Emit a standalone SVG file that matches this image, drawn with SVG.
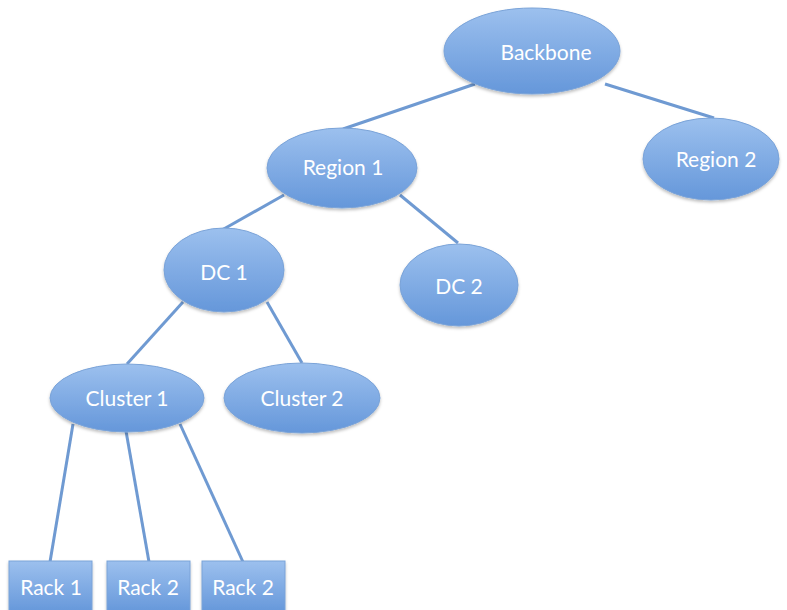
<svg xmlns="http://www.w3.org/2000/svg" width="787" height="610" viewBox="0 0 787 610">
<defs>
<linearGradient id="g" x1="0" y1="0" x2="0" y2="1">
<stop offset="0" stop-color="#9cc0ee"/>
<stop offset="1" stop-color="#6597da"/>
</linearGradient>
<filter id="sh" x="-10%" y="-10%" width="120%" height="130%">
<feDropShadow dx="0" dy="2" stdDeviation="1.5" flood-color="#000" flood-opacity="0.25"/>
</filter>
</defs>
<style>
.n{fill:url(#g);stroke:#7aa3d8;stroke-width:1;filter:url(#sh)}
.t{font-family:Lato,"Open Sans","Liberation Sans",sans-serif;font-size:21px;fill:#fff;text-anchor:middle}
.c line{stroke:#6f9ad2;stroke-width:3}
</style>
<rect width="787" height="610" fill="#fff"/>
<g class="c" id="connectors">
<line x1="475" y1="84" x2="343" y2="129"/>
<line x1="605" y1="84" x2="714" y2="118"/>
<line x1="284" y1="195" x2="222" y2="230"/>
<line x1="400" y1="195" x2="458" y2="243"/>
<line x1="183" y1="302" x2="127" y2="364"/>
<line x1="267" y1="302" x2="302" y2="363"/>
<line x1="73" y1="424" x2="50" y2="562"/>
<line x1="126" y1="431" x2="149" y2="562"/>
<line x1="180" y1="424" x2="243" y2="562"/>
</g>
<g id="backbone"><ellipse class="n" cx="532" cy="51" rx="88" ry="43"/><text class="t" x="546" y="60">Backbone</text></g>
<g id="region2"><ellipse class="n" cx="711" cy="159" rx="68" ry="41"/><text class="t" x="716" y="167">Region 2</text></g>
<g id="region1"><ellipse class="n" cx="342" cy="168" rx="75" ry="40"/><text class="t" x="343" y="175">Region 1</text></g>
<g id="dc1"><ellipse class="n" cx="224" cy="270" rx="60" ry="42"/><text class="t" x="224" y="280">DC 1</text></g>
<g id="dc2"><ellipse class="n" cx="459" cy="285" rx="59" ry="41"/><text class="t" x="459" y="294">DC 2</text></g>
<g id="cluster1"><ellipse class="n" cx="127" cy="398" rx="77" ry="34"/><text class="t" x="127" y="406">Cluster 1</text></g>
<g id="cluster2"><ellipse class="n" cx="302" cy="398" rx="78" ry="35"/><text class="t" x="302" y="406">Cluster 2</text></g>
<g id="rack1"><rect class="n" x="9" y="561" width="83" height="52"/><text class="t" x="51" y="595">Rack 1</text></g>
<g id="rack2a"><rect class="n" x="107" y="561" width="83" height="52"/><text class="t" x="148" y="595">Rack 2</text></g>
<g id="rack2b"><rect class="n" x="202" y="561" width="83" height="52"/><text class="t" x="243" y="595">Rack 2</text></g>
</svg>
